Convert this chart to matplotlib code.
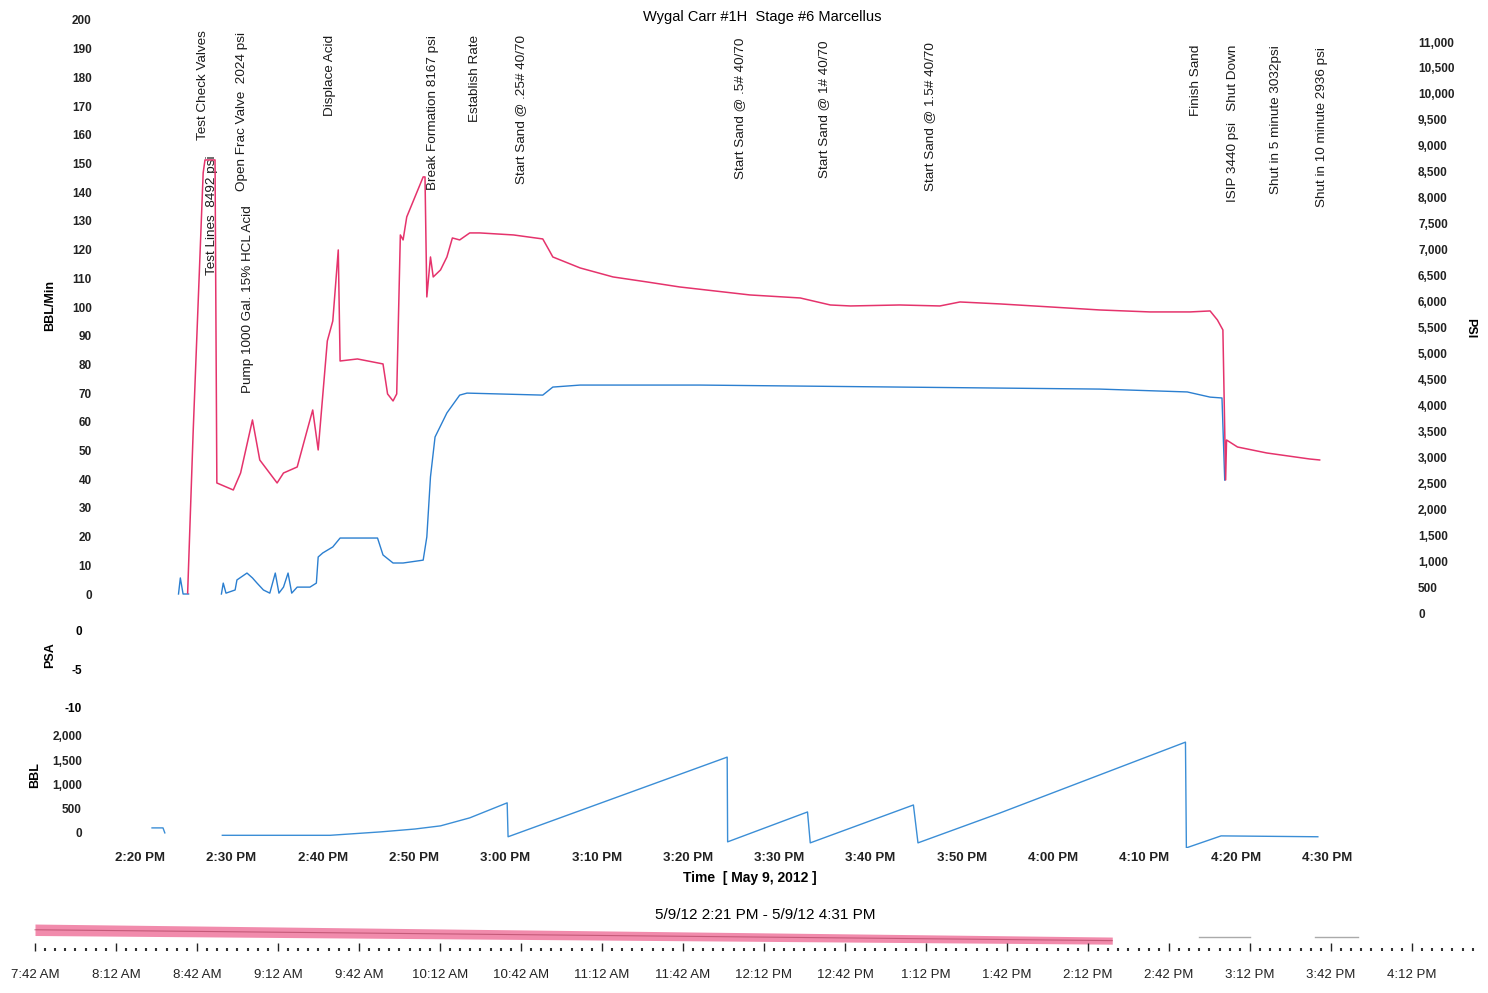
import numpy as np
import matplotlib.pyplot as plt
import matplotlib.transforms as mtransforms
from matplotlib.ticker import MultipleLocator, FuncFormatter

plt.rcParams['font.family'] = ['Liberation Sans', 'DejaVu Sans']
plt.rcParams['axes.unicode_minus'] = False

W, H = 1488, 993

# time is minutes after 2:00 PM
psi_t = [25.2, 25.8, 26.9, 27.1, 28.2, 28.4, 30.2, 31.0, 32.3, 33.1, 35.0, 35.7, 37.2, 38.3, 38.9, 39.5,
         40.5, 41.1, 41.7, 41.9, 43.8, 46.6, 47.1, 47.7, 48.1, 48.5, 48.8, 49.2, 51.0, 51.2, 51.4, 51.8,
         52.1, 52.9, 53.6, 54.2, 55.0, 56.1, 57.2, 60.9, 64.1, 64.9, 65.2, 68.2, 71.8, 75.5, 79.1, 86.8,
         92.3, 95.6, 97.8, 103.2, 107.6, 109.8, 114.2, 119.7, 125.1, 130.6, 135.0, 137.2, 138.0, 138.6,
         138.9, 139.0, 140.2, 143.4, 148.1, 149.2]
psi_v = [385, 3468, 8478, 8728, 8728, 2505, 2370, 2697, 3719, 2948, 2505, 2697, 2813, 3526, 3911, 3141,
         5241, 5626, 6994, 4855, 4894, 4798, 4220, 4085, 4220, 7283, 7187, 7630, 8401, 8401, 6089, 6859,
         6474, 6609, 6859, 7225, 7187, 7322, 7322, 7283, 7206, 6956, 6859, 6647, 6474, 6378, 6281, 6127,
         6069, 5934, 5915, 5934, 5915, 5992, 5954, 5896, 5838, 5800, 5800, 5819, 5645, 5453,
         2563, 3333, 3198, 3083, 2967, 2948]

nan = float('nan')
rate_t = [24.2, 24.4, 24.7, 25.3, nan, 28.9, 29.1, 29.4, 30.4, 30.6, 31.7, 32.3, 32.8, 33.5, 34.2, 34.8,
          35.2, 35.7, 36.2, 36.6, 37.2, 38.6, 39.3, 39.5, 40.0, 41.1, 41.9, 46.0, 46.6, 47.7, 48.8, 51.0,
          51.4, 51.8, 52.3, 53.6, 55.0, 55.8, 64.1, 65.2, 68.2, 81.3, 103.2, 125.1, 134.7, 137.2, 138.5, 138.8]
rate_v = [0, 5.6, 0, 0, nan, 0, 3.8, 0.3, 1.4, 4.9, 7.3, 5.6, 3.8, 1.4, 0.3, 7.3,
          0.3, 2.4, 7.3, 0.3, 2.4, 2.4, 3.8, 12.9, 14.3, 16.4, 19.5, 19.5, 13.6, 10.8, 10.8, 11.8,
          19.9, 40.8, 54.7, 63.1, 69.3, 70.0, 69.3, 72.1, 72.8, 72.8, 72.1, 71.4, 70.4, 68.6, 68.3, 39.7]

bbl_t = [21.3, 22.5, 22.7, nan, 29.0, 40.8, 46.3, 50.1, 52.9, 56.1, 60.2, 60.3, 84.3, 84.35, 93.1, 93.4,
         104.7, 105.2, 114.2, 134.5, 134.6, 138.4, 149.0]
bbl_v = [103, 103, 0, nan, -50, -50, 20, 80, 145, 310, 620, -80, 1564, -185, 432, -206,
         576, -206, 412, 1873, -309, -62, -80]

event_t = [26.9, 27.9, 31.2, 31.8, 40.8, 52.1, 56.7, 61.7, 85.7, 94.9, 106.5, 135.6, 139.7, 144.4, 149.5]
event_lbl = ['Test Check Valves', 'Test Lines  8492 psi', 'Open Frac Valve  2024 psi',
             'Pump 1000 Gal. 15% HCL Acid', 'Displace Acid', 'Break Formation 8167 psi',
             'Establish Rate', 'Start Sand @ .25# 40/70', 'Start Sand @ .5# 40/70',
             'Start Sand @ 1# 40/70', 'Start Sand @ 1.5# 40/70', 'Finish Sand',
             'ISIP 3440 psi   Shut Down', 'Shut in 5 minute 3032psi', 'Shut in 10 minute 2936 psi']
event_top = [0.983, 0.772, 0.980, 0.688, 0.975, 0.975, 0.975, 0.975, 0.970, 0.966, 0.963,
             0.958, 0.958, 0.958, 0.954]

time_ticks = [20, 30, 40, 50, 60, 70, 80, 90, 100, 110, 120, 130, 140, 150]
time_lbls = ['2:20 PM', '2:30 PM', '2:40 PM', '2:50 PM', '3:00 PM', '3:10 PM', '3:20 PM',
             '3:30 PM', '3:40 PM', '3:50 PM', '4:00 PM', '4:10 PM', '4:20 PM', '4:30 PM']

# overview strip, minutes after 7:42 AM
ov_ticks = [0, 30, 60, 90, 120, 150, 180, 210, 240, 270, 300, 330, 360, 390, 420, 450, 480, 510]
ov_lbls = ['7:42 AM', '8:12 AM', '8:42 AM', '9:12 AM', '9:42 AM', '10:12 AM', '10:42 AM', '11:12 AM',
           '11:42 AM', '12:12 PM', '12:42 PM', '1:12 PM', '1:42 PM', '2:12 PM', '2:42 PM', '3:12 PM',
           '3:42 PM', '4:12 PM']
band_x = [0, 399]
band_top = [0.87, 0.45]
band_bot = [0.50, 0.22]

PINK = '#e5336c'
BLUE = '#2b7fd0'


def box(l, t, r, b):
    return [l / W, 1 - b / H, (r - l) / W, (b - t) / H]


def comma(v, pos):
    return '{:,.0f}'.format(v)


fig = plt.figure(figsize=(W / 100, H / 100), dpi=100)
xl = (15.6, 158.0)

# main panel: rate on left, pressure on right
ax = fig.add_axes(box(100, 20, 1400, 613))
ax2 = ax.twinx()
ax.plot(rate_t, rate_v, color=BLUE, lw=1.0)
ax2.plot(psi_t, psi_v, color=PINK, lw=1.1)
ax.set_xlim(*xl)
ax.set_ylim(-6.62, 200)
ax2.set_ylim(0, 11424)
ax.set_yticks(np.arange(0, 201, 10))
ax2.set_yticks(np.arange(0, 11001, 500))
ax2.yaxis.set_major_formatter(FuncFormatter(comma))
ax.set_xticks([])
ax.tick_params(axis='y', length=0, pad=6, labelsize=8.5)
ax2.tick_params(axis='y', length=0, pad=13, labelsize=8.5)
for lab in ax.get_yticklabels() + ax2.get_yticklabels():
    lab.set_fontweight('bold')
    lab.set_color('#222222')
for a in (ax, ax2):
    for s in a.spines.values():
        s.set_visible(False)

trans = mtransforms.blended_transform_factory(ax.transData, ax.transAxes)
for t, lbl, top in zip(event_t, event_lbl, event_top):
    ax.text(t, top, lbl, transform=trans, rotation=90, ha='center', va='top',
            fontsize=9.7, color='#1a1a1a')

# PSA panel (empty)
axp = fig.add_axes(box(100, 618, 1400, 715))
axp.set_xlim(*xl)
axp.set_ylim(-11.05, 1.71)
axp.set_yticks([0, -5, -10])
axp.set_xticks([])
axp.tick_params(axis='y', length=0, pad=13, labelsize=8.5)
for lab in axp.get_yticklabels():
    lab.set_fontweight('bold')
for s in axp.spines.values():
    s.set_visible(False)

# stage volume panel
axb = fig.add_axes(box(100, 725, 1400, 848))
axb.plot(bbl_t, bbl_v, color='#3b8ed6', lw=1.0)
axb.set_xlim(*xl)
axb.set_ylim(-312, 2227)
axb.set_yticks([0, 500, 1000, 1500, 2000])
axb.yaxis.set_major_formatter(FuncFormatter(comma))
axb.set_xticks(time_ticks)
axb.set_xticklabels(time_lbls)
axb.tick_params(axis='y', length=0, pad=13, labelsize=8.5)
axb.tick_params(axis='x', length=0, pad=3, labelsize=9.5)
for lab in axb.get_yticklabels() + axb.get_xticklabels():
    lab.set_fontweight('bold')
    lab.set_color('#222222')
for s in axb.spines.values():
    s.set_visible(False)

# overview strip
axo = fig.add_axes(box(30, 920, 1480, 951))
axo.fill_between(band_x, band_bot, band_top, color='#ee6e98', alpha=0.8, lw=0)
axo.plot(band_x, [(a + b) / 2 for a, b in zip(band_top, band_bot)], color='#a83a58', lw=0.8, alpha=0.6)
axo.plot([431, 450], [0.45, 0.45], color='#aaaaaa', lw=1)
axo.plot([474, 490], [0.45, 0.45], color='#aaaaaa', lw=1)
axo.set_xlim(-1.85, 535.2)
axo.set_ylim(0, 1)
axo.set_yticks([])
axo.set_xticks(ov_ticks)
axo.set_xticklabels(ov_lbls)
axo.xaxis.set_minor_locator(MultipleLocator(3.75))
axo.tick_params(axis='x', which='major', direction='in', length=6, width=1, pad=13,
                labelsize=9.5, colors='#222222')
axo.tick_params(axis='x', which='minor', direction='in', length=2, width=1.5, colors='#333333')
for s in axo.spines.values():
    s.set_visible(False)

# labels and titles
fig.text(762 / W, 1 - 17 / H, 'Wygal Carr #1H  Stage #6 Marcellus', ha='center', va='center', fontsize=10.5)
fig.text(50 / W, 1 - 305 / H, 'BBL/Min', rotation=90, ha='center', va='center', fontsize=9, fontweight='bold')
fig.text(1470 / W, 1 - 328 / H, 'PSI', rotation=270, ha='center', va='center', fontsize=9, fontweight='bold')
fig.text(50 / W, 1 - 655 / H, 'PSA', rotation=90, ha='center', va='center', fontsize=9, fontweight='bold')
fig.text(35 / W, 1 - 775 / H, 'BBL', rotation=90, ha='center', va='center', fontsize=9, fontweight='bold')
fig.text(750 / W, 1 - 878 / H, 'Time  [ May 9, 2012 ]', ha='center', va='center', fontsize=10, fontweight='bold')
fig.text(765 / W, 1 - 915 / H, '5/9/12 2:21 PM - 5/9/12 4:31 PM', ha='center', va='center', fontsize=11)

fig.savefig('out.png', dpi=100)
